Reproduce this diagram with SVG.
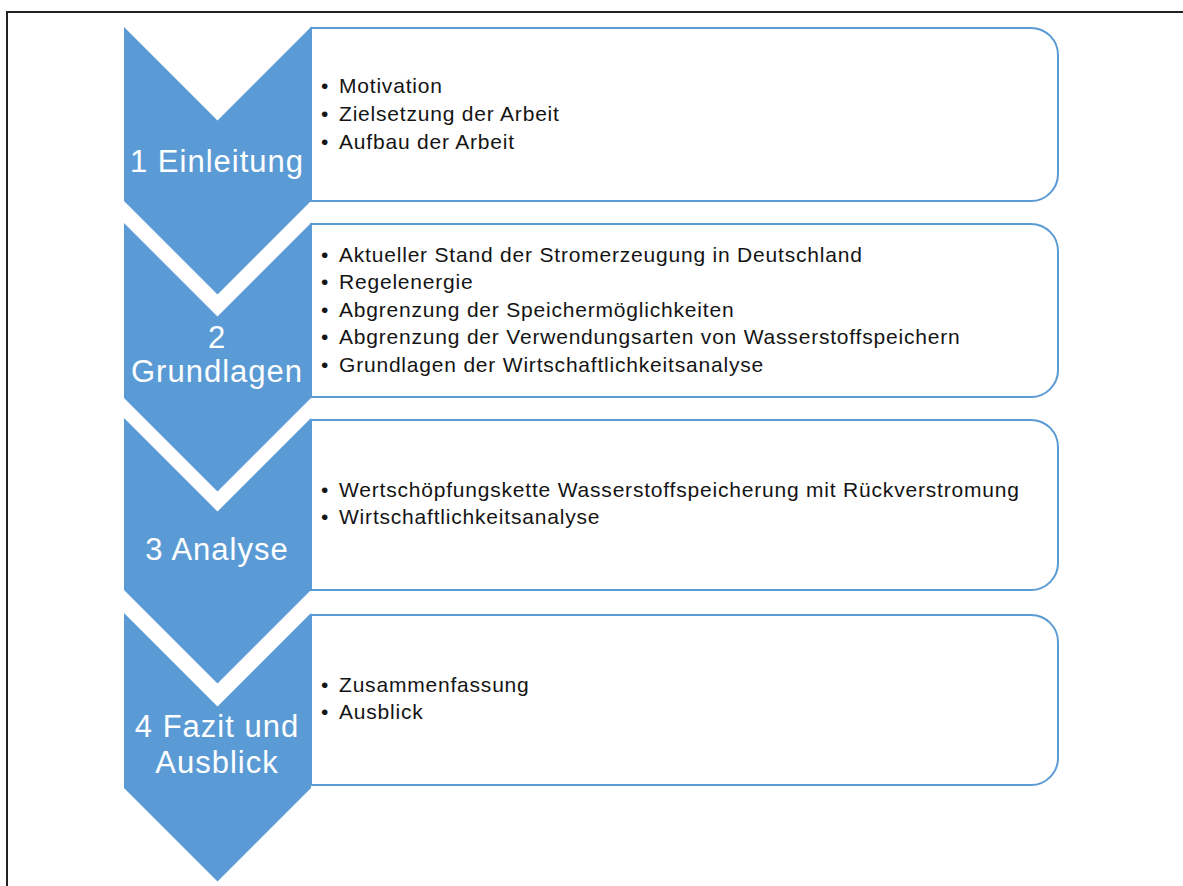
<svg xmlns="http://www.w3.org/2000/svg" width="1183" height="886" viewBox="0 0 1183 886">
  <style>
    .chev { fill: #5B9BD5; }
    .box { fill: #FFFFFF; stroke: #5B9BD5; stroke-width: 2; }
    .title { font-family: "Liberation Sans", Arial, sans-serif; font-size: 31px; letter-spacing: 1px; fill: #FFFFFF; text-anchor: middle; }
    .item { font-family: "Liberation Sans", Arial, sans-serif; font-size: 21px; letter-spacing: 0.8px; fill: #141414; }
    .frame { fill: none; stroke: #222222; stroke-width: 2; }
  </style>

  <!-- outer frame (top and left edges) -->
  <path class="frame" d="M7,886 V12 H1183"/>

  <!-- connectors: none, the chevrons chain the steps -->
  <g id="connectors"/>

  <!-- step 1 -->
  <g id="step1">
    <path class="box" d="M311,28 H1031 A27,27 0 0 1 1058,55 V174 A27,27 0 0 1 1031,201 H311 Z"/>
    <path class="chev" d="M124,27 L217.5,120.5 L311,27 V201 L217.5,294.5 L124,201 Z"/>
    <text class="title" x="217" y="172">1 Einleitung</text>
    <text class="item"><tspan x="321" y="93">•</tspan><tspan x="339" y="93">Motivation</tspan></text>
    <text class="item"><tspan x="321" y="121">•</tspan><tspan x="339" y="121">Zielsetzung der Arbeit</tspan></text>
    <text class="item"><tspan x="321" y="149">•</tspan><tspan x="339" y="149">Aufbau der Arbeit</tspan></text>
  </g>

  <!-- step 2 -->
  <g id="step2">
    <path class="box" d="M311,224 H1031 A27,27 0 0 1 1058,251 V370 A27,27 0 0 1 1031,397 H311 Z"/>
    <path class="chev" d="M124,223 L217.5,316.5 L311,223 V398 L217.5,491.5 L124,398 Z"/>
    <text class="title" x="217" y="348">2</text>
    <text class="title" x="217" y="382">Grundlagen</text>
    <text class="item"><tspan x="321" y="261.5">•</tspan><tspan x="339" y="261.5">Aktueller Stand der Stromerzeugung in Deutschland</tspan></text>
    <text class="item"><tspan x="321" y="289">•</tspan><tspan x="339" y="289">Regelenergie</tspan></text>
    <text class="item"><tspan x="321" y="316.5">•</tspan><tspan x="339" y="316.5">Abgrenzung der Speichermöglichkeiten</tspan></text>
    <text class="item"><tspan x="321" y="344">•</tspan><tspan x="339" y="344">Abgrenzung der Verwendungsarten von Wasserstoffspeichern</tspan></text>
    <text class="item"><tspan x="321" y="371.5">•</tspan><tspan x="339" y="371.5">Grundlagen der Wirtschaftlichkeitsanalyse</tspan></text>
  </g>

  <!-- step 3 -->
  <g id="step3">
    <path class="box" d="M311,420 H1031 A27,27 0 0 1 1058,447 V563 A27,27 0 0 1 1031,590 H311 Z"/>
    <path class="chev" d="M124,418 L217.5,511.5 L311,418 V590 L217.5,683.5 L124,590 Z"/>
    <text class="title" x="217" y="560">3 Analyse</text>
    <text class="item"><tspan x="321" y="497">•</tspan><tspan x="339" y="497">Wertschöpfungskette Wasserstoffspeicherung mit Rückverstromung</tspan></text>
    <text class="item"><tspan x="321" y="524">•</tspan><tspan x="339" y="524">Wirtschaftlichkeitsanalyse</tspan></text>
  </g>

  <!-- step 4 -->
  <g id="step4">
    <path class="box" d="M311,615 H1031 A27,27 0 0 1 1058,642 V758 A27,27 0 0 1 1031,785 H311 Z"/>
    <path class="chev" d="M124,613 L217.5,706.5 L311,613 V788 L217.5,881.5 L124,788 Z"/>
    <text class="title" x="217" y="737">4 Fazit und</text>
    <text class="title" x="217" y="773">Ausblick</text>
    <text class="item"><tspan x="321" y="692">•</tspan><tspan x="339" y="692">Zusammenfassung</tspan></text>
    <text class="item"><tspan x="321" y="719">•</tspan><tspan x="339" y="719">Ausblick</tspan></text>
  </g>
</svg>
